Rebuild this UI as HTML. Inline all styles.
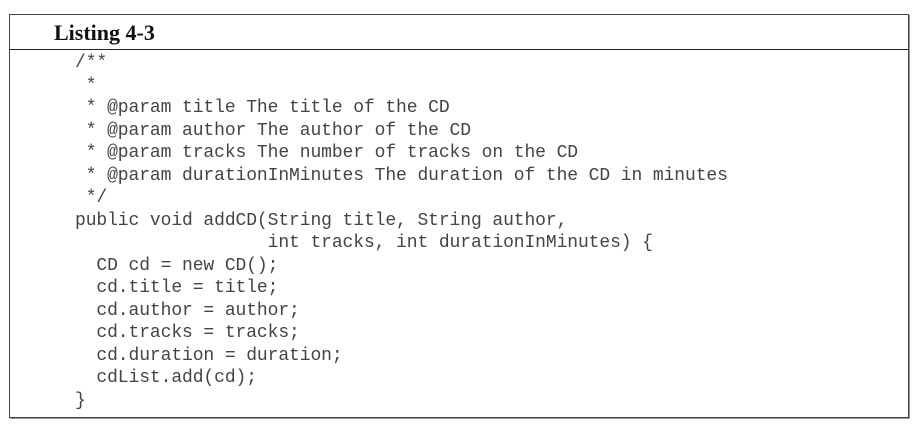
<!DOCTYPE html>
<html><head><meta charset="utf-8"><style>
html,body{margin:0;padding:0;background:#fff;width:922px;height:430px;overflow:hidden;}
.box{position:absolute;left:9px;top:14px;width:898px;height:402px;border:1px solid #444;box-shadow:1px 1px 0 #999;}
.hdr{position:absolute;left:0;top:0;width:898px;height:34px;border-bottom:1.5px solid #222;}
.hdr span{position:absolute;left:44px;top:5px;font:bold 22px "Liberation Serif",serif;color:#111;}
pre{position:absolute;left:75px;top:52px;margin:0;font:18px/22.5px "Liberation Mono",monospace;color:#444;letter-spacing:-0.1px;}
</style></head><body>
<div class="box"><div class="hdr"><span>Listing 4-3</span></div></div>
<pre>/**
 *
 * @param title The title of the CD
 * @param author The author of the CD
 * @param tracks The number of tracks on the CD
 * @param durationInMinutes The duration of the CD in minutes
 */
public void addCD(String title, String author,
                  int tracks, int durationInMinutes) {
  CD cd = new CD();
  cd.title = title;
  cd.author = author;
  cd.tracks = tracks;
  cd.duration = duration;
  cdList.add(cd);
}</pre>
</body></html>
